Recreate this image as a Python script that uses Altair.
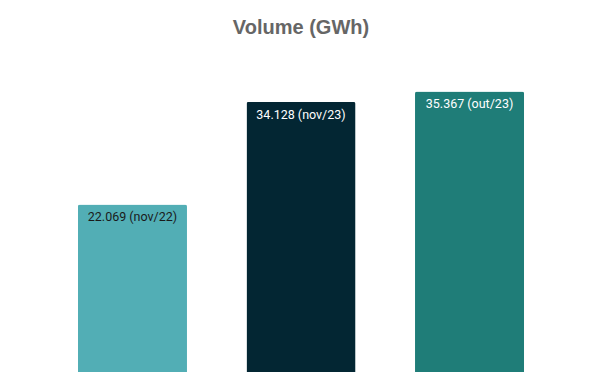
import altair as alt
import pandas as pd

categories = ["nov/22", "nov/23", "out/23"]
values = [22.069, 34.128, 35.367]
labels = ["22.069 (nov/22)", "34.128 (nov/23)", "35.367 (out/23)"]
bar_colors = ["#52AEB5", "#032633", "#1F7D78"]
text_colors = ["#1a1a1a", "#ffffff", "#ffffff"]

df = pd.DataFrame({
    "cat": categories,
    "value": values,
    "label": labels,
    "tcol": text_colors,
})

x = alt.X("cat:N", sort=None, axis=None,
          scale=alt.Scale(paddingInner=0.353, paddingOuter=0.415))
y = alt.Y("value:Q", axis=None, scale=alt.Scale(domain=[0, 40]))

base = alt.Chart(df).encode(x=x, y=y)

bars = base.mark_bar(cornerRadius=2).encode(
    color=alt.Color("cat:N", scale=alt.Scale(domain=categories, range=bar_colors), legend=None)
)

text = base.mark_text(baseline="top", dy=7, font="Roboto", fontSize=12.5).encode(
    text="label:N",
    color=alt.Color("tcol:N", scale=None),
)

chart = alt.layer(bars, text).resolve_scale(color="independent").properties(
    width=586,
    height=340,
    title=alt.Title("Volume (GWh)", fontSize=20, font="Liberation Sans",
                    fontWeight="bold", color="#666666", offset=14),
).configure(padding={"top": 10, "left": 0, "right": 0, "bottom": 0}).configure_view(stroke=None)

chart.save("out.html", embed_options={"renderer": "svg", "actions": False})
